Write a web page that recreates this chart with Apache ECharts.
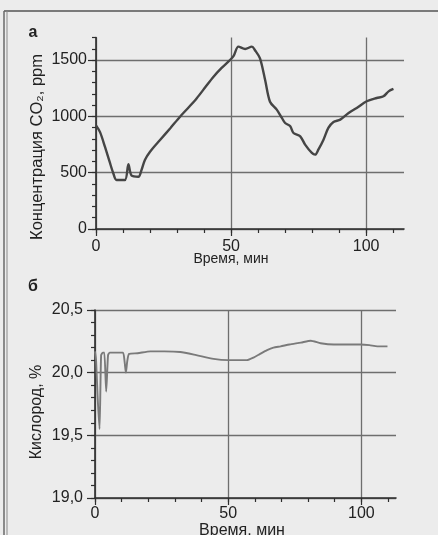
<!DOCTYPE html>
<html>
<head>
<meta charset="utf-8">
<script src="https://cdn.jsdelivr.net/npm/echarts@6/dist/echarts.min.js"></script>
<style>
html,body{margin:0;padding:0;background:#ececec;}
#c{width:438px;height:535px;}
</style>
</head>
<body>
<div id="c"></div>
<script>
// ---- Panel а: CO2 concentration ----
var co2Time = [0, 1.5, 3.3, 5, 6.4, 7.6, 10.7, 12, 13.2, 15.7, 16.8, 18.1, 20, 23.7, 27.5, 31.1, 34.5, 37.3, 40.5, 43.5, 46.5, 49.6, 51, 52.7, 55.2, 57.7, 58.9, 60.7, 62.6, 64.4, 66.9, 68.8, 70, 71.9, 73.1, 75.6, 77.4, 79.9, 81.1, 82.3, 84.2, 86, 87.9, 90.4, 93.5, 96.5, 100.2, 103.9, 106.4, 108.3, 110.1];
var co2Values = [920, 860, 731, 600, 495, 435, 435, 575, 473, 464, 520, 613, 686, 790, 895, 997, 1085, 1161, 1260, 1352, 1430, 1500, 1540, 1619, 1598, 1619, 1585, 1515, 1323, 1130, 1060, 986, 941, 912, 852, 823, 749, 675, 660, 704, 793, 897, 950, 971, 1030, 1074, 1134, 1163, 1178, 1222, 1243];

// ---- Panel б: oxygen ----
var o2Time = [0, 0.4, 1, 1.7, 2.3, 3, 3.5, 4.2, 4.9, 5.5, 8, 10.5, 11.1, 11.6, 12.1, 12.8, 16, 20.8, 26, 32, 38, 44.5, 50, 54, 57, 59.5, 62, 64.6, 67, 69.7, 73, 77.3, 81, 84.7, 89.7, 95, 99.7, 103, 106, 109.8];
var o2Values = [20.17, 20.1, 19.8, 19.55, 20.14, 20.16, 20.16, 19.85, 20.14, 20.16, 20.16, 20.16, 20.09, 20.0, 20.09, 20.15, 20.155, 20.17, 20.17, 20.165, 20.14, 20.11, 20.1, 20.1, 20.1, 20.12, 20.15, 20.18, 20.2, 20.21, 20.225, 20.24, 20.255, 20.235, 20.225, 20.225, 20.225, 20.22, 20.21, 20.21];

// ---- axis ticks / labels ----
var timeMinorTicks = [0, 10, 20, 30, 40, 50, 60, 70, 80, 90, 100, 110];
var timeMajorTicks = [0, 50, 100];
var co2MinorTicks = [0, 100, 200, 300, 400, 500, 600, 700, 800, 900, 1000, 1100, 1200, 1300, 1400, 1500, 1600, 1700];
var co2MajorTicks = [0, 500, 1000, 1500];
var o2MinorTicks = [19.0, 19.1, 19.2, 19.3, 19.4, 19.5, 19.6, 19.7, 19.8, 19.9, 20.0, 20.1, 20.2, 20.3, 20.4, 20.5];
var o2MajorTicks = [19.0, 19.5, 20.0, 20.5];

var panelLetters = ['а', 'б'];
var xName = 'Время, мин';
var co2Name = 'Концентрация CO\u2082, ppm';
var o2Name = 'Кислород, %';

function zip(a, b) { return a.map(function (v, i) { return [v, b[i]]; }); }

var FONT = '"Liberation Sans", Arial, "DejaVu Sans", sans-serif';
var TXT = '#222222';
var AXIS = '#2e2e2e';
var GRID = '#6e6e6e';

function minorAxis(extra, ticks) {
  return Object.assign({
    type: 'value',
    axisLine: { show: true, onZero: false, lineStyle: { color: AXIS, width: 1.6 } },
    axisTick: { show: true, length: 4, customValues: ticks, lineStyle: { color: AXIS, width: 1.2 } },
    axisLabel: { show: false, customValues: ticks },
    splitLine: { show: false }
  }, extra);
}
function majorAxis(extra, ticks, fmt, margin, tickLen) {
  return Object.assign({
    type: 'value',
    axisLine: { show: false, onZero: false },
    axisTick: { show: true, length: tickLen, customValues: ticks, lineStyle: { color: AXIS, width: 1.2 } },
    axisLabel: { show: true, customValues: ticks, margin: margin, color: TXT, fontSize: 16, fontFamily: FONT, formatter: fmt },
    splitLine: { show: true, lineStyle: { color: GRID, width: 1.3 } }
  }, extra);
}

var fmtInt = function (v) { return String(v); };
var fmtDec = function (v) { return Number(v).toFixed(1).replace('.', ','); };

var chart = echarts.init(document.getElementById('c'), null, { renderer: 'canvas' });
chart.setOption({
  backgroundColor: '#ececec',
  animation: false,
  grid: [
    { left: 96, top: 37.5, width: 308, height: 191.5 },
    { left: 95, top: 310, width: 301, height: 188 }
  ],
  xAxis: [
    minorAxis({ gridIndex: 0, position: 'bottom', min: 0, max: 114 }, timeMinorTicks),
    majorAxis({ gridIndex: 0, position: 'bottom', min: 0, max: 114 }, timeMajorTicks, fmtInt, 10, 7),
    minorAxis({ gridIndex: 1, position: 'bottom', min: 0, max: 113 }, timeMinorTicks),
    majorAxis({ gridIndex: 1, position: 'bottom', min: 0, max: 113 }, timeMajorTicks, fmtInt, 8, 7)
  ],
  yAxis: [
    minorAxis({ gridIndex: 0, position: 'left', min: 0, max: 1700 }, co2MinorTicks),
    majorAxis({ gridIndex: 0, position: 'left', min: 0, max: 1700 }, co2MajorTicks, fmtInt, 9, 8),
    minorAxis({ gridIndex: 1, position: 'left', min: 19, max: 20.5 }, o2MinorTicks),
    majorAxis({ gridIndex: 1, position: 'left', min: 19, max: 20.5 }, o2MajorTicks, fmtDec, 12, 8)
  ],
  series: [
    {
      type: 'line', xAxisIndex: 0, yAxisIndex: 0, data: zip(co2Time, co2Values),
      showSymbol: false, smooth: 0.3, lineStyle: { color: '#454545', width: 2.4 }, z: 5
    },
    {
      type: 'line', xAxisIndex: 2, yAxisIndex: 2, data: zip(o2Time, o2Values),
      showSymbol: false, smooth: 0.2, lineStyle: { color: '#7a7a7a', width: 1.9 }, z: 5
    }
  ],
  graphic: [
    { type: 'line', shape: { x1: 4, y1: 11, x2: 438, y2: 11 }, style: { stroke: '#7a7a7a', lineWidth: 2 } },
    { type: 'line', shape: { x1: 4, y1: 11, x2: 4, y2: 535 }, style: { stroke: '#6a6a6a', lineWidth: 1.5 } },
    { type: 'line', shape: { x1: 7, y1: 11, x2: 7, y2: 535 }, style: { stroke: '#8a8a8a', lineWidth: 1 } },
    { type: 'text', x: 33, y: 33, style: { text: panelLetters[0], font: 'bold 16px ' + FONT, fill: '#222', align: 'center', verticalAlign: 'middle' } },
    { type: 'text', x: 33, y: 287, style: { text: panelLetters[1], font: 'bold 16px ' + FONT, fill: '#222', align: 'center', verticalAlign: 'middle' } },
    { type: 'text', x: 231, y: 259, style: { text: xName, font: '14px ' + FONT, fill: TXT, align: 'center', verticalAlign: 'middle' } },
    { type: 'text', x: 242, y: 531, style: { text: xName, font: '16px ' + FONT, fill: TXT, align: 'center', verticalAlign: 'middle' } },
    { type: 'text', x: 37, y: 147, rotation: Math.PI / 2, style: { text: co2Name, font: '16.5px ' + FONT, fill: TXT, align: 'center', verticalAlign: 'middle' } },
    { type: 'text', x: 37, y: 412, rotation: Math.PI / 2, style: { text: o2Name, font: '16px ' + FONT, fill: TXT, align: 'center', verticalAlign: 'middle' } }
  ]
});
</script>
</body>
</html>
